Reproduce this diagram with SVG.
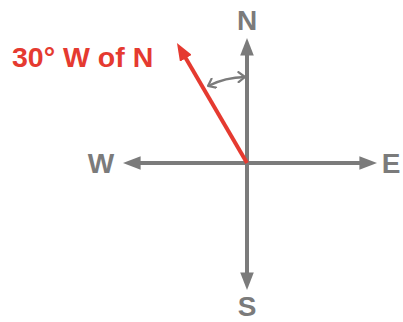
<svg xmlns="http://www.w3.org/2000/svg" width="403" height="322" viewBox="0 0 403 322">
<defs>
<marker id="ag" markerWidth="4.4" markerHeight="3.4" refX="2.4" refY="1.7" orient="auto" markerUnits="strokeWidth"><path d="M0,0 L4.4,1.7 L0,3.4 Z" fill="#7b7b7b"/></marker>
<marker id="ar" markerWidth="4.4" markerHeight="3.4" refX="2.4" refY="1.7" orient="auto" markerUnits="strokeWidth"><path d="M0,0 L4.4,1.7 L0,3.4 Z" fill="#e53a30"/></marker>
<marker id="ch" markerWidth="10" markerHeight="12" refX="8" refY="6" orient="auto-start-reverse" markerUnits="userSpaceOnUse"><path d="M1.5,1 L8,6 L1.5,11" fill="none" stroke="#7b7b7b" stroke-width="2.2" stroke-linecap="round" stroke-linejoin="round"/></marker>
</defs>
<style>
.ax{stroke:#7b7b7b;stroke-width:4;fill:none}
.lb{font-family:"Liberation Sans",Arial,sans-serif;font-weight:bold;font-size:28px;fill:#7b7b7b;text-anchor:middle}
</style>
<g id="connectors">
<line class="ax" x1="247" y1="163" x2="247" y2="46" marker-end="url(#ag)"/>
<line class="ax" x1="247" y1="163" x2="247" y2="282" marker-end="url(#ag)"/>
<line class="ax" x1="247" y1="163" x2="369" y2="163" marker-end="url(#ag)"/>
<line class="ax" x1="247" y1="163" x2="131" y2="163" marker-end="url(#ag)"/>
<line x1="247" y1="163" x2="181" y2="50" stroke="#e53a30" stroke-width="4" marker-end="url(#ar)"/>
<path d="M208,86 A86,86 0 0 1 245,77" fill="none" stroke="#7b7b7b" stroke-width="2.5" marker-start="url(#ch)" marker-end="url(#ch)"/>
</g>
<g id="N"><text class="lb" x="247" y="30">N</text></g>
<g id="S"><text class="lb" x="247" y="316">S</text></g>
<g id="E"><text class="lb" x="391" y="173">E</text></g>
<g id="W"><text class="lb" x="101" y="173">W</text></g>
<g id="label"><text x="12" y="67" font-family="Liberation Sans,Arial,sans-serif" font-weight="bold" font-size="28.5" fill="#e53a30">30° W of N</text></g>
</svg>
